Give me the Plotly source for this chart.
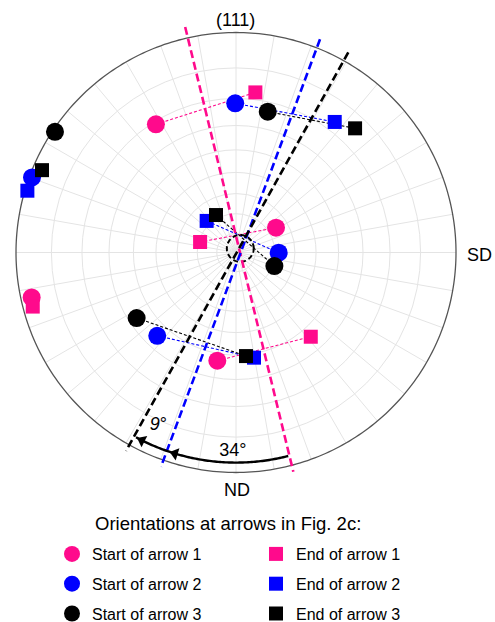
import numpy as np
import plotly.graph_objects as go

# ---------------- data (stereographic radius, azimuth in degrees) ----------------
start1_r = [0.687, 0.214, 0.951, 0.499]
start1_theta = [122.0, 31.8, 192.4, 260.2]
end1_r = [0.733, 0.170, 0.956, 0.512]
end1_theta = [83.1, 163.7, 194.9, 311.6]

start2_r = [0.678, 0.194, 0.988, 0.521]
start2_theta = [90.3, 359.7, 159.8, 226.6]
end2_r = [0.744, 0.196, 0.989, 0.485]
end2_theta = [52.9, 132.9, 163.5, 279.7]

start3_r = [0.656, 0.185, 0.989, 0.541]
start3_theta = [77.3, 340.6, 146.3, 213.4]
end3_r = [0.782, 0.193, 0.958, 0.473]
end3_theta = [46.2, 118.1, 157.0, 275.5]

linked_pairs = [0, 1, 3]  # start/end pairs joined by a thin dashed line

# axis traces of the three arrows: (r, theta) of both ends
axis1_r = [1.051, 1.030]
axis1_theta = [102.7, 284.65]
axis2_r = [1.042, 1.032]
axis2_theta = [68.5, 250.7]
axis3_r = [1.043, 1.031]
axis3_theta = [60.7, 241.0]

# rotation angle annotation
arc_r = 0.955
arc_theta_start = 284.4
arc_theta_end = 241.6
arrow_tips_theta = [251.5, 241.8]
angle_labels = ["34°", "<i>9</i>°"]
angle_labels_r = [0.906, 0.86]
angle_labels_theta = [269.1, 245.8]

# small dashed circle around the common pivot
pivot_r = 0.027
pivot_theta = 44.0
pivot_radius = 0.061

series_names_start = ["Start of arrow 1", "Start of arrow 2", "Start of arrow 3"]
series_names_end = ["End of arrow 1", "End of arrow 2", "End of arrow 3"]

PINK = "#ff0a8c"
BLUE = "#0000ff"
BLACK = "#000000"
colors = [PINK, BLUE, BLACK]
FONT = "Liberation Sans, Arial, Helvetica, sans-serif"

starts = [(start1_r, start1_theta), (start2_r, start2_theta), (start3_r, start3_theta)]
ends = [(end1_r, end1_theta), (end2_r, end2_theta), (end3_r, end3_theta)]
axes = [(axis1_r, axis1_theta), (axis2_r, axis2_theta), (axis3_r, axis3_theta)]

fig = go.Figure()

# --- spokes of the stereographic net (every 10 degrees) ---
sp_r, sp_t = [], []
for a in range(0, 360, 10):
    sp_r += [0, 1, None]
    sp_t += [a, a, None]
fig.add_trace(go.Scatterpolar(r=sp_r, theta=sp_t, mode="lines",
                              line=dict(color="#e4e4e4", width=1),
                              showlegend=False, hoverinfo="skip"))

# --- outer circle ---
circ_t = np.linspace(0, 360, 361)
fig.add_trace(go.Scatterpolar(r=np.ones_like(circ_t), theta=circ_t, mode="lines",
                              line=dict(color="#555555", width=1.3),
                              showlegend=False, hoverinfo="skip"))

# --- thin dashed lines start -> end ---
for (sr, st), (er, et), c in zip(starts, ends, colors):
    lr, lt = [], []
    for i in linked_pairs:
        lr += [sr[i], er[i], None]
        lt += [st[i], et[i], None]
    fig.add_trace(go.Scatterpolar(r=lr, theta=lt, mode="lines",
                                  line=dict(color=c, width=1.1, dash="3px,2px"),
                                  showlegend=False, hoverinfo="skip"))

# --- small dashed circle ---
px0 = pivot_r * np.cos(np.radians(pivot_theta))
py0 = pivot_r * np.sin(np.radians(pivot_theta))
tt = np.linspace(0, 2 * np.pi, 121)
cx = px0 + pivot_radius * np.cos(tt)
cy = py0 + pivot_radius * np.sin(tt)
fig.add_trace(go.Scatterpolar(r=np.hypot(cx, cy), theta=np.degrees(np.arctan2(cy, cx)),
                              mode="lines", line=dict(color=BLACK, width=2, dash="5px,3px"),
                              showlegend=False, hoverinfo="skip"))

# --- start markers (circles) ---
for k, ((sr, st), c) in enumerate(zip(starts, colors)):
    fig.add_trace(go.Scatterpolar(r=sr, theta=st, mode="markers",
                                  marker=dict(symbol="circle", size=18, color=c, line=dict(width=0)),
                                  name=series_names_start[k], legend="legend",
                                  legendgroup="s%d" % k))

# --- end markers (squares) ---
for k, ((er, et), c) in enumerate(zip(ends, colors)):
    fig.add_trace(go.Scatterpolar(r=er, theta=et, mode="markers",
                                  marker=dict(symbol="square", size=14, color=c, line=dict(width=0)),
                                  name=series_names_end[k], legend="legend2",
                                  legendgroup="e%d" % k))

# --- long dashed axis lines ---
for (ar, at), c in zip(axes, colors):
    fig.add_trace(go.Scatterpolar(r=ar, theta=at, mode="lines",
                                  line=dict(color=c, width=2.6, dash="8px,4px"),
                                  showlegend=False, hoverinfo="skip"))

# --- rotation arc with arrowheads ---
arc_t = np.linspace(arc_theta_start, arc_theta_end, 90)
fig.add_trace(go.Scatterpolar(r=np.full_like(arc_t, arc_r), theta=arc_t, mode="lines",
                              line=dict(color=BLACK, width=2.4),
                              showlegend=False, hoverinfo="skip"))
head_t = [t + 1.6 for t in arrow_tips_theta]
fig.add_trace(go.Scatterpolar(r=[arc_r] * len(head_t), theta=head_t, mode="markers",
                              marker=dict(symbol="triangle-up", size=11, color=BLACK,
                                          angle=[180 - t for t in head_t], line=dict(width=0)),
                              showlegend=False, hoverinfo="skip"))
fig.add_trace(go.Scatterpolar(r=angle_labels_r, theta=angle_labels_theta, mode="text",
                              text=angle_labels, textfont=dict(size=18, color=BLACK, family=FONT),
                              showlegend=False, hoverinfo="skip"))

# --- net rings at 10 degree tilt steps (stereographic) ---
ring_vals = [float(np.tan(np.radians(5 * k))) for k in range(1, 9)]

W, H = 495, 622
cxp, cyp = 236.0, 369.5
Rmax = 1.06
Rpx = 220.0 * Rmax


def label(text, x, y, size=18):
    return dict(text=text, x=x / W, y=(H - y) / H, xref="paper", yref="paper",
                xanchor="center", yanchor="middle", showarrow=False, font=dict(size=size))


fig.update_layout(
    width=W, height=H,
    margin=dict(l=0, r=0, t=0, b=0, autoexpand=False),
    paper_bgcolor="white",
    font=dict(family=FONT, color=BLACK, size=16),
    polar=dict(
        domain=dict(x=[(cxp - Rpx) / W, (cxp + Rpx) / W], y=[(cyp - Rpx) / H, (cyp + Rpx) / H]),
        bgcolor="rgba(0,0,0,0)",
        radialaxis=dict(range=[0, Rmax], tickvals=ring_vals, showticklabels=False, ticks="",
                        showline=False, gridcolor="#e4e4e4", gridwidth=1),
        angularaxis=dict(rotation=0, direction="counterclockwise", showgrid=False,
                         showticklabels=False, ticks="", showline=False),
    ),
    legend=dict(x=52 / W, xanchor="left", y=(H - 537) / H, yanchor="top",
                font=dict(size=16, family=FONT), tracegroupgap=6, bgcolor="rgba(0,0,0,0)"),
    legend2=dict(x=256 / W, xanchor="left", y=(H - 537) / H, yanchor="top",
                 font=dict(size=16, family=FONT), tracegroupgap=6, bgcolor="rgba(0,0,0,0)"),
    annotations=[
        label("(111)", 235, 20),
        label("SD", 479, 255),
        label("ND", 237, 490),
        label("Orientations at arrows in Fig. 2c:", 228, 523, 18.5),
    ],
)

fig.write_html("out.html", config={"displayModeBar": False},
               post_script="document.body.style.margin='0px';")
